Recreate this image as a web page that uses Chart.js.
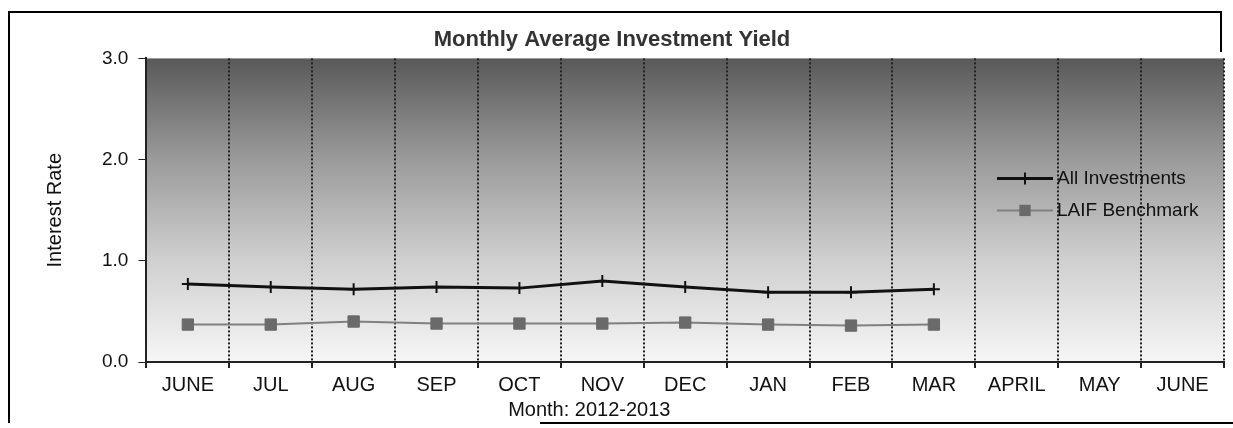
<!DOCTYPE html>
<html>
<head>
<meta charset="utf-8">
<title>Monthly Average Investment Yield</title>
<script src="https://cdn.jsdelivr.net/npm/chart.js@4.4.0/dist/chart.umd.min.js"></script>
<style>
  html, body { margin: 0; padding: 0; background: #fff; }
  #wrap { width: 1233px; height: 428px; }
</style>
</head>
<body>
<div id="wrap"><canvas id="yieldChart"></canvas></div>
<script>
// values (fiscal year 2012-2013)
const months = ['JUNE', 'JUL', 'AUG', 'SEP', 'OCT', 'NOV', 'DEC', 'JAN', 'FEB', 'MAR', 'APRIL', 'MAY', 'JUNE'];
const allInvestments = [0.77, 0.74, 0.72, 0.74, 0.73, 0.80, 0.74, 0.69, 0.69, 0.72];
const laifBenchmark = [0.37, 0.37, 0.40, 0.38, 0.38, 0.38, 0.39, 0.37, 0.36, 0.37];
const yTicks = [0, 1, 2, 3];

const FONT = '"Liberation Sans", Arial, sans-serif';

// white page, shaded plot area and the scanned page frame
const backdrop = {
  id: 'backdrop',
  beforeDraw(chart) {
    const { ctx, chartArea: a, width, height } = chart;
    ctx.save();
    ctx.fillStyle = '#fff';
    ctx.fillRect(0, 0, width, height);

    const g = ctx.createLinearGradient(0, a.top, 0, a.bottom);
    g.addColorStop(0, '#595959');
    g.addColorStop(0.33, '#9a9a9a');
    g.addColorStop(0.66, '#cfcfcf');
    g.addColorStop(1, '#f6f6f6');
    ctx.fillStyle = g;
    ctx.fillRect(a.left, a.top, a.right - a.left, a.bottom - a.top);

    ctx.strokeStyle = '#000';
    ctx.lineWidth = 2;
    ctx.beginPath();
    ctx.moveTo(8, 12); ctx.lineTo(1222, 12);
    ctx.moveTo(9, 12); ctx.lineTo(9, 423);
    ctx.moveTo(540, 423); ctx.lineTo(1233, 423);
    ctx.moveTo(1221, 12); ctx.lineTo(1221, 52);
    ctx.stroke();
    ctx.restore();
  }
};

// legend sits inside the plot, right side
const insideLegend = {
  id: 'insideLegend',
  afterDatasetsDraw(chart) {
    const { ctx, chartArea: a } = chart;
    ctx.save();
    ctx.font = '19px ' + FONT;
    ctx.textBaseline = 'middle';
    ctx.fillStyle = '#111';
    chart.data.datasets.forEach((ds, i) => {
      const x = a.right - 227;
      const y = a.top + 120 + i * 32;
      ctx.strokeStyle = ds.borderColor;
      ctx.lineWidth = ds.borderWidth;
      ctx.beginPath();
      ctx.moveTo(x, y);
      ctx.lineTo(x + 56, y);
      ctx.stroke();
      const r = ds.pointRadius;
      if (ds.pointStyle === 'rect') {
        const s = r * Math.SQRT1_2;
        ctx.fillStyle = ds.pointBackgroundColor;
        ctx.fillRect(x + 28 - s, y - s, 2 * s, 2 * s);
      } else {
        ctx.strokeStyle = ds.pointBorderColor;
        ctx.lineWidth = ds.pointBorderWidth;
        ctx.beginPath();
        ctx.moveTo(x + 28 - r, y); ctx.lineTo(x + 28 + r, y);
        ctx.moveTo(x + 28, y - r); ctx.lineTo(x + 28, y + r);
        ctx.stroke();
      }
      ctx.fillStyle = '#111';
      ctx.fillText(ds.label, x + 60, y);
    });
    ctx.restore();
  }
};

// x axis caption is off-centre in the original
const xCaption = {
  id: 'xCaption',
  afterDraw(chart) {
    const { ctx, chartArea: a } = chart;
    ctx.save();
    ctx.font = '20px ' + FONT;
    ctx.fillStyle = '#111';
    ctx.textAlign = 'center';
    ctx.textBaseline = 'middle';
    ctx.fillText('Month: 2012-2013', a.left + (a.right - a.left) * 0.411, 410);
    ctx.restore();
  }
};

new Chart(document.getElementById('yieldChart'), {
  type: 'line',
  data: {
    labels: months,
    datasets: [
      {
        label: 'All Investments',
        data: allInvestments,
        borderColor: '#111',
        borderWidth: 3,
        pointStyle: 'cross',
        pointRadius: 6,
        pointBorderWidth: 2,
        pointBorderColor: '#111',
        pointBackgroundColor: '#111',
        tension: 0,
      },
      {
        label: 'LAIF Benchmark',
        data: laifBenchmark,
        borderColor: '#808080',
        borderWidth: 2,
        pointStyle: 'rect',
        pointRadius: 8,
        pointBorderWidth: 1,
        pointBorderColor: '#6a6a6a',
        pointBackgroundColor: '#6a6a6a',
        tension: 0,
      },
    ],
  },
  options: {
    responsive: true,
    maintainAspectRatio: false,
    animation: false,
    layout: { padding: { top: 27, left: 0, right: 9, bottom: 26 } },
    plugins: {
      legend: { display: false },
      tooltip: { enabled: false },
      title: {
        display: true,
        text: 'Monthly Average Investment Yield',
        color: '#333',
        font: { family: FONT, size: 22, weight: 'bold' },
        padding: { top: 0, bottom: 5 },
      },
    },
    scales: {
      x: {
        offset: true,
        grid: {
          offset: true,
          color: '#222',
          lineWidth: 2,
          tickLength: 6,
        },
        border: { display: true, color: '#222', width: 2, dash: [2, 2] },
        ticks: {
          color: '#111',
          padding: 5,
          maxRotation: 0,
          autoSkip: false,
          font: { family: FONT, size: 20 },
        },
      },
      y: {
        min: 0,
        max: 3,
        afterBuildTicks: (axis) => {
          axis.ticks = yTicks.map((v) => ({ value: v }));
        },
        grid: {
          drawOnChartArea: false,
          color: '#222',
          tickLength: 8,
        },
        border: { display: true, color: '#222', width: 2, dash: [2, 2] },
        ticks: {
          color: '#111',
          padding: 10,
          font: { family: FONT, size: 19 },
          callback: (v) => Number(v).toFixed(1),
        },
        title: {
          display: true,
          text: 'Interest Rate',
          color: '#111',
          font: { family: FONT, size: 20 },
          padding: { top: 43, bottom: 25 },
        },
      },
    },
  },
  plugins: [backdrop, insideLegend, xCaption],
});
</script>
</body>
</html>
